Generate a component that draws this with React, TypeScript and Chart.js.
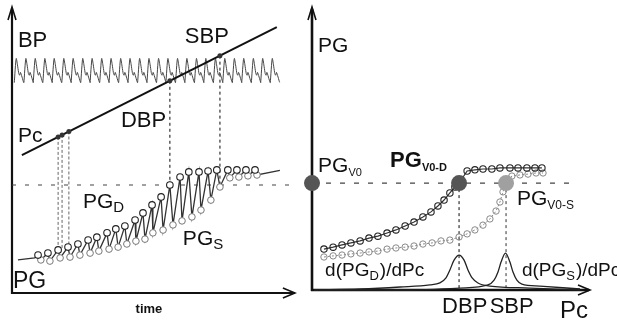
import { useEffect, useRef } from "react";
import { Chart, registerables } from "chart.js";

Chart.register(...registerables);

// ================= LEFT PANEL: BP / Pc / PG versus time =================
// BP pulse waveform: peak times of every beat and one beat template
const bpBeatPeakTimes = [1.5, 4.9, 8.2, 11.6, 14.9, 18.3, 21.6, 25.0, 28.3, 31.7, 35.0, 38.4, 41.7, 45.1, 48.4, 51.8, 55.1, 58.5, 61.8, 65.2, 68.5, 71.9, 75.2, 78.6, 81.9, 85.3, 88.6, 92.0];
const bpBeatOffsets = [-0.7, 0, 0.9, 1.2, 1.5, 2.6];
const bpBeatValues = [73.8, 82.3, 77.0, 76.4, 77.4, 73.9];

// Cuff pressure Pc ramp
const pcTime = [3.5, 93.6];
const pcPressure = [48.4, 93.3];

// PG_D (upper envelope) and PG_S (lower envelope) samples
const pgdTime = [9.2, 12.7, 16.3, 19.8, 23.3, 26.9, 30.0, 33.6, 36.7, 39.9, 43.5, 46.3, 49.5, 52.7, 55.8, 59.4, 62.5, 66.1, 69.3, 72.4, 76.3, 79.5, 82.7, 85.9];
const pgdValue = [13.3, 14.0, 15.1, 16.1, 17.2, 18.6, 19.6, 21.1, 22.5, 23.5, 25.6, 28.1, 30.9, 33.7, 37.9, 40.7, 42.5, 42.5, 42.8, 43.2, 43.2, 43.2, 43.2, 43.2];
const pgsTime = [10.2, 13.4, 17.0, 20.5, 24.0, 27.6, 30.7, 34.3, 37.5, 40.6, 43.8, 47.0, 49.8, 53.4, 56.9, 60.1, 63.6, 66.8, 70.3, 73.5, 77.0, 80.2, 83.4, 86.6];
const pgsValue = [11.6, 11.2, 12.3, 12.6, 13.3, 14.0, 14.7, 15.4, 16.1, 17.2, 18.2, 18.9, 21.1, 22.1, 23.9, 25.3, 26.7, 29.1, 32.6, 37.2, 40.4, 40.7, 41.1, 41.4];
const pgLeadTime = [2.1, 8.0];
const pgLeadValue = [11.6, 12.3];
const pgTailTime = [94.7];
const pgTailValue = [43.0];

// Reference level PG_V0 and marker lines
const pgThreshold = 37.9;
const leftThresholdSpan = [0, 98.2];
const earlyMarkTimes = [16.3, 17.7, 20.1];
const earlyMarkBottoms = [15.1, 15.5, 16.1];
const dbpTime = 55.8;
const dbpPg = 37.9;
const sbpTime = 73.5;
const sbpPg = 37.2;

// ================= RIGHT PANEL: PG versus Pc =================
const pgdVsPcX = [4.3, 7.6, 10.8, 14.0, 17.3, 20.5, 23.7, 27.0, 30.2, 33.5, 36.7, 39.9, 42.8, 45.3, 47.5, 49.6, 51.4, 52.9, 55.8, 58.6, 61.5, 64.7, 67.6, 71.2, 74.1, 77.3, 80.2, 82.7];
const pgdVsPcY = [14.5, 15.2, 16.0, 16.7, 17.4, 18.4, 19.1, 20.2, 21.3, 22.7, 24.1, 25.9, 27.7, 29.8, 31.9, 34.4, 36.5, 37.9, 42.2, 42.6, 42.9, 42.9, 43.3, 43.3, 43.3, 43.3, 43.3, 43.3];
const pgsVsPcX = [4.3, 7.6, 10.8, 14.0, 17.3, 20.5, 23.7, 27.0, 30.2, 33.5, 36.7, 39.9, 43.2, 46.4, 49.6, 52.9, 55.8, 58.6, 61.5, 64.0, 66.2, 67.6, 68.7, 69.8, 71.9, 74.8, 77.7, 80.6, 83.1];
const pgsVsPcY = [11.7, 12.1, 12.4, 12.8, 13.1, 13.5, 13.8, 14.5, 14.9, 15.2, 15.6, 16.3, 16.7, 17.4, 17.7, 18.8, 19.9, 21.3, 23.0, 25.2, 28.0, 31.2, 34.8, 37.9, 40.4, 40.8, 41.1, 41.5, 41.5];
const dPgdX = [0.7, 17.3, 31.7, 42.4, 46.0, 48.2, 49.6, 51.1, 52.9, 54.7, 56.1, 57.6, 59.7, 64.0, 78.4, 96.4];
const dPgdY = [0.0, 0.35, 1.06, 1.8, 2.5, 4.3, 7.1, 10.6, 12.4, 10.6, 7.1, 4.3, 2.5, 1.4, 0.7, 0.0];
const dPgsX = [0.7, 31.7, 53.2, 63.3, 65.5, 66.9, 68.0, 69.6, 71.2, 72.3, 73.7, 75.5, 82.0, 96.4];
const dPgsY = [0.0, 0.0, 0.7, 1.8, 3.5, 6.4, 9.9, 13.1, 9.9, 6.4, 3.5, 2.1, 1.4, 0.35];
const bigDotX = [0, 52.9, 69.8];
const bigDotY = [37.9, 37.9, 37.9];
const bigDotColors = ["#555555", "#555555", "#a0a0a0"];
const rightThresholdSpan = [0, 94.6];
const rightDbp = 52.9;
const rightSbp = 69.8;

// ================= TEXT =================
type Part = { t: string; sub?: boolean };
type Label = { parts: Part[]; x: number; y: number; size: number; subSize?: number; weight?: string; family?: string; align?: "left" | "center" };

const SANS = "'Liberation Sans', Arial, sans-serif";

const leftLabels: Label[] = [
  { parts: [{ t: "BP" }], x: 2.1, y: 86.3, size: 22 },
  { parts: [{ t: "SBP" }], x: 61.1, y: 87.7, size: 22 },
  { parts: [{ t: "DBP" }], x: 38.5, y: 58.2, size: 22 },
  { parts: [{ t: "Pc" }], x: 2.1, y: 53.0, size: 21 },
  { parts: [{ t: "PG" }, { t: "D", sub: true }], x: 25.1, y: 29.8, size: 21, subSize: 15 },
  { parts: [{ t: "PG" }, { t: "S", sub: true }], x: 60.4, y: 16.8, size: 21, subSize: 15 },
  { parts: [{ t: "PG" }], x: 0.35, y: 1.75, size: 23 },
  { parts: [{ t: "time" }], x: 48.4, y: -7.0, size: 13, weight: "bold", align: "center" },
];

const rightLabels: Label[] = [
  { parts: [{ t: "PG" }], x: 2.2, y: 84.4, size: 21 },
  { parts: [{ t: "PG" }, { t: "V0", sub: true }], x: 2.2, y: 41.8, size: 21, subSize: 11 },
  { parts: [{ t: "PG" }, { t: "V0-D", sub: true }], x: 28.1, y: 43.6, size: 22, subSize: 11, weight: "bold" },
  { parts: [{ t: "PG" }, { t: "V0-S", sub: true }], x: 73.7, y: 30.1, size: 21, subSize: 12 },
  { parts: [{ t: "d(PG" }, { t: "D", sub: true }, { t: ")/dPc" }], x: 4.7, y: 5.0, size: 19, subSize: 13 },
  { parts: [{ t: "d(PG" }, { t: "S", sub: true }, { t: ")/dPc" }], x: 75.5, y: 5.0, size: 19, subSize: 13 },
  { parts: [{ t: "DBP" }], x: 46.8, y: -8.2, size: 22 },
  { parts: [{ t: "SBP" }], x: 63.9, y: -8.2, size: 22 },
  { parts: [{ t: "Pc" }], x: 89.2, y: -9.9, size: 24 },
];

// ================= helpers =================
const pts = (xs: number[], ys: number[]) => xs.map((x, i) => ({ x, y: ys[i] }));

function drawLabels(chart: any, labels: Label[]) {
  const { ctx, scales } = chart;
  ctx.save();
  ctx.fillStyle = "#111";
  ctx.textBaseline = "alphabetic";
  ctx.textAlign = "left";
  labels.forEach((l) => {
    let px = scales.x.getPixelForValue(l.x);
    const py = scales.y.getPixelForValue(l.y);
    const fam = l.family || SANS;
    const w = l.weight || "normal";
    const mainFont = `${w} ${l.size}px ${fam}`;
    const subFont = `${w} ${l.subSize || Math.round(l.size * 0.65)}px ${fam}`;
    let total = 0;
    l.parts.forEach((p) => {
      ctx.font = p.sub ? subFont : mainFont;
      total += ctx.measureText(p.t).width;
    });
    if (l.align === "center") px -= total / 2;
    l.parts.forEach((p) => {
      ctx.font = p.sub ? subFont : mainFont;
      ctx.fillText(p.t, px, py + (p.sub ? Math.round(l.size * 0.2) : 0));
      px += ctx.measureText(p.t).width + (p.sub ? 1 : 0);
    });
  });
  ctx.restore();
}

function drawAxes(chart: any, width: number) {
  const { ctx, chartArea: a } = chart;
  ctx.save();
  ctx.strokeStyle = "#111";
  ctx.lineWidth = width;
  ctx.beginPath();
  ctx.moveTo(a.left, a.bottom + 1);
  ctx.lineTo(a.left, a.top + 1);
  ctx.moveTo(a.left - 1, a.bottom);
  ctx.lineTo(a.right - 1, a.bottom);
  ctx.stroke();
  ctx.lineWidth = 1.6;
  ctx.beginPath();
  ctx.moveTo(a.left - 4, a.top + 12);
  ctx.lineTo(a.left, a.top - 1);
  ctx.lineTo(a.left + 4, a.top + 12);
  ctx.moveTo(a.right - 12, a.bottom - 5);
  ctx.lineTo(a.right, a.bottom);
  ctx.lineTo(a.right - 12, a.bottom + 5);
  ctx.stroke();
  ctx.restore();
}

const lineDs = (data: any[], color: string, width: number, dash: number[] = [], order = 5) => ({
  data,
  showLine: true,
  borderColor: color,
  borderWidth: width,
  borderDash: dash,
  pointRadius: 0,
  fill: false,
  clip: false as any,
  order,
});

const baseOptions = (padding: any) => ({
  responsive: false,
  animation: false as const,
  devicePixelRatio: 1,
  events: [] as any[],
  layout: { padding },
  plugins: { legend: { display: false }, tooltip: { enabled: false } },
  scales: {
    x: { type: "linear" as const, min: 0, max: 100, display: false },
    y: { type: "linear" as const, min: 0, max: 100, display: false },
  },
});

export default function App() {
  const leftRef = useRef<HTMLCanvasElement>(null);
  const rightRef = useRef<HTMLCanvasElement>(null);

  useEffect(() => {
    // ---- left chart data ----
    const bpData = bpBeatPeakTimes.flatMap((t) => bpBeatOffsets.map((o, i) => ({ x: t + o, y: bpBeatValues[i] })));
    const pgZigzag = [
      ...pts(pgLeadTime, pgLeadValue),
      ...pgdTime.flatMap((t, i) => [{ x: t, y: pgdValue[i] }, { x: pgsTime[i], y: pgsValue[i] }]),
      ...pts(pgTailTime, pgTailValue),
    ];
    const pcAt = (t: number) => pcPressure[0] + ((t - pcTime[0]) * (pcPressure[1] - pcPressure[0])) / (pcTime[1] - pcTime[0]);

    const leftDatasets: any[] = [
      lineDs(pts(leftThresholdSpan, [pgThreshold, pgThreshold]), "#444", 1.2, [4, 9], 9),
      ...earlyMarkTimes.map((t, i) => lineDs([{ x: t, y: pcAt(t) }, { x: t, y: earlyMarkBottoms[i] }], "#666", 1, [3, 2], 8)),
      lineDs([{ x: dbpTime, y: pcAt(dbpTime) }, { x: dbpTime, y: dbpPg }], "#333", 1.2, [3, 3], 8),
      lineDs([{ x: sbpTime, y: pcAt(sbpTime) }, { x: sbpTime, y: sbpPg }], "#333", 1.2, [3, 3], 8),
      { ...lineDs(bpData, "#444", 1, [], 7), tension: 0.2 },
      lineDs(pts(pcTime, pcPressure), "#111", 2, [], 3),
      lineDs(pgZigzag, "#333", 1.3, [], 4),
      {
        data: pts(pgdTime, pgdValue), showLine: false, pointRadius: 3.3, pointBorderWidth: 1.1,
        pointBorderColor: "#222", pointBackgroundColor: "#fff", order: 1, clip: false,
      },
      {
        data: pts(pgsTime, pgsValue), showLine: false, pointRadius: 3.3, pointBorderWidth: 1,
        pointBorderColor: "#777", pointBackgroundColor: "#fff", order: 2, clip: false,
      },
      {
        data: [...earlyMarkTimes, dbpTime, sbpTime].map((t) => ({ x: t, y: pcAt(t) })),
        showLine: false, pointRadius: 2.5, pointBorderWidth: 0, pointBackgroundColor: "#333", order: 0, clip: false,
      },
    ];

    const left = new Chart(leftRef.current!, {
      type: "scatter",
      data: { datasets: leftDatasets },
      options: baseOptions({ left: 12, right: 5, top: 8, bottom: 28 }) as any,
      plugins: [
        {
          id: "leftDecor",
          beforeDatasetsDraw: (c: any) => drawAxes(c, 2.2),
          afterDraw: (c: any) => drawLabels(c, leftLabels),
        },
      ],
    });

    // ---- right chart data ----
    const rightDatasets: any[] = [
      lineDs(pts(rightThresholdSpan, [bigDotY[0], bigDotY[0]]), "#444", 1.2, [5, 9], 9),
      lineDs([{ x: rightDbp, y: bigDotY[1] }, { x: rightDbp, y: 0 }], "#333", 1.2, [3, 3], 8),
      lineDs([{ x: rightSbp, y: bigDotY[2] }, { x: rightSbp, y: 0 }], "#555", 1.2, [3, 3], 8),
      { ...lineDs(pts(dPgdX, dPgdY), "#222", 1.3, [], 6), cubicInterpolationMode: "monotone" },
      { ...lineDs(pts(dPgsX, dPgsY), "#222", 1.3, [], 6), cubicInterpolationMode: "monotone" },
      {
        data: pts(pgdVsPcX, pgdVsPcY), showLine: true, borderColor: "#333", borderWidth: 1.2,
        pointRadius: 3.2, pointBorderWidth: 1.1, pointBorderColor: "#222", pointBackgroundColor: "rgba(255,255,255,0)",
        order: 2, clip: false,
      },
      {
        data: pts(pgsVsPcX, pgsVsPcY), showLine: true, borderColor: "#888", borderWidth: 1, borderDash: [2, 2],
        pointRadius: 3.2, pointBorderWidth: 1, pointBorderColor: "#888", pointBackgroundColor: "rgba(255,255,255,0)",
        order: 3, clip: false,
      },
      {
        data: pts(bigDotX, bigDotY), showLine: false, pointRadius: 8, pointBorderWidth: 0,
        pointBackgroundColor: bigDotColors, order: 0, clip: false,
      },
    ];

    const right = new Chart(rightRef.current!, {
      type: "scatter",
      data: { datasets: rightDatasets },
      options: baseOptions({ left: 12, right: 27, top: 8, bottom: 31 }) as any,
      plugins: [
        {
          id: "rightDecor",
          beforeDatasetsDraw: (c: any) => drawAxes(c, 2.6),
          afterDraw: (c: any) => drawLabels(c, rightLabels),
        },
      ],
    });

    return () => {
      left.destroy();
      right.destroy();
    };
  }, []);

  return (
    <div style={{ position: "fixed", left: 0, top: 0, width: 617, height: 321, background: "#fff", overflow: "hidden" }}>
      <canvas ref={leftRef} width={300} height={321} style={{ position: "absolute", left: 0, top: 0, width: 300, height: 321 }} />
      <canvas ref={rightRef} width={317} height={321} style={{ position: "absolute", left: 300, top: 0, width: 317, height: 321 }} />
    </div>
  );
}
